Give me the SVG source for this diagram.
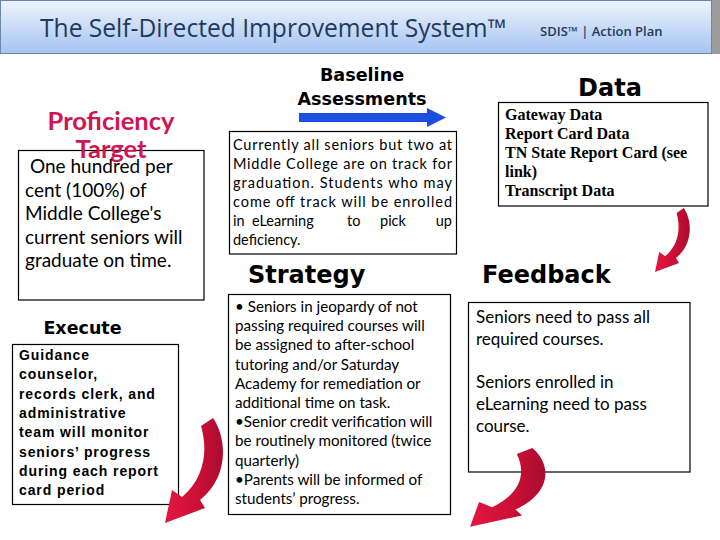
<svg xmlns="http://www.w3.org/2000/svg" width="720" height="540" viewBox="0 0 720 540">
<defs>
  <linearGradient id="hdr" x1="0" y1="0" x2="0" y2="1">
    <stop offset="0" stop-color="#eef4fd"/>
    <stop offset="1" stop-color="#a5c3f1"/>
  </linearGradient>
  <linearGradient id="red" x1="0" y1="0" x2="1" y2="0">
    <stop offset="0" stop-color="#e3173f"/>
    <stop offset="0.6" stop-color="#c90f36"/>
    <stop offset="1" stop-color="#a90c2f"/>
  </linearGradient>
  <path id="curl" d="M 36,8 L 48,0 C 63,22 63,60 35,82 L 40,90 L 0,105 L 7,72 L 17,79 C 40,60 43,32 36,8 Z"/>
</defs>
<style>
  .box{fill:#fff;stroke:#000;stroke-width:1.2}
  .cal{font-family:Lato,"Liberation Sans",sans-serif;fill:#000}
  .ttl{font-family:"DejaVu Sans",sans-serif;font-weight:bold;fill:#000}
  .prof{font-family:Lato,"Liberation Sans",sans-serif;font-weight:bold;font-size:25.5px;fill:#cf1552}
  .exe{font-family:"Liberation Sans",Arial,sans-serif;font-weight:bold;font-size:14px;letter-spacing:0.9px;fill:#000}
  .dat{font-family:"Liberation Serif","Times New Roman",serif;font-weight:bold;font-size:16px;fill:#000}
  .curl{fill:url(#red)}
</style>
<rect width="720" height="540" fill="#fff"/>

<g id="header">
  <rect x="0.5" y="0.5" width="711" height="53" fill="url(#hdr)" stroke="#6b86a8"/>
  <rect x="712" y="0" width="8" height="54" fill="#9b9b9b"/>
  <text x="40" y="37" font-family="'Open Sans',sans-serif" font-size="24.6" fill="#1f3a60">The Self-Directed Improvement System™</text>
  <text x="540" y="36" font-family="'Open Sans',sans-serif" font-size="13" font-weight="600" fill="#1f3a60">SDIS™  |  Action Plan</text>
</g>

<g id="proficiency">
  <text x="111" y="130" text-anchor="middle" class="prof">Proficiency</text>
  <rect class="box" x="18.5" y="150.5" width="185.5" height="149.5"/>
  <text x="111" y="158" text-anchor="middle" class="prof">Target</text>
  <g class="cal" font-size="19">
    <text x="30" y="173">One hundred per</text>
    <text x="25" y="196.5">cent  (100%) of</text>
    <text x="25" y="220">Middle College's</text>
    <text x="25" y="243.5">current seniors will</text>
    <text x="25" y="267">graduate on time.</text>
  </g>
</g>

<g id="execute">
  <text x="82.5" y="334" text-anchor="middle" class="ttl" font-size="17.5">Execute</text>
  <rect class="box" x="12.5" y="344.5" width="166" height="160"/>
  <g class="exe">
    <text x="19" y="360">Guidance</text>
    <text x="19" y="379.3">counselor,</text>
    <text x="19" y="398.6">records clerk, and</text>
    <text x="19" y="417.9">administrative</text>
    <text x="19" y="437.2">team will monitor</text>
    <text x="19" y="456.5">seniors’ progress</text>
    <text x="19" y="475.8">during each report</text>
    <text x="19" y="495.1">card period</text>
  </g>
</g>

<g id="baseline">
  <text x="362" y="81" text-anchor="middle" class="ttl" font-size="17.6">Baseline</text>
  <text x="362" y="105" text-anchor="middle" class="ttl" font-size="17.6">Assessments</text>
  <rect class="box" x="229.5" y="131.5" width="227" height="122.5"/>
  <g class="cal" font-size="14.5">
    <text x="233" y="150" textLength="219" lengthAdjust="spacing">Currently all seniors but two at</text>
    <text x="233" y="169" textLength="219" lengthAdjust="spacing">Middle College are on track for</text>
    <text x="233" y="188" textLength="219" lengthAdjust="spacing">graduation.  Students who may</text>
    <text x="233" y="207" textLength="219" lengthAdjust="spacing">come off track will be  enrolled</text>
    <text x="233" y="226">in</text>
    <text x="252" y="226">eLearning</text>
    <text x="347" y="226">to</text>
    <text x="380" y="226">pick</text>
    <text x="452" y="226" text-anchor="end">up</text>
    <text x="233" y="245">deficiency.</text>
  </g>
</g>

<g id="strategy">
  <text x="248" y="283" class="ttl" font-size="24">Strategy</text>
  <rect class="box" x="228.5" y="294.5" width="222" height="220"/>
  <g class="cal" font-size="15.2">
    <text x="235" y="312">• Seniors in jeopardy of not</text>
    <text x="235" y="331.2">passing required courses will</text>
    <text x="235" y="350.4">be assigned to after-school</text>
    <text x="235" y="369.6">tutoring and/or Saturday</text>
    <text x="235" y="388.8">Academy for remediation or</text>
    <text x="235" y="408">additional time on task.</text>
    <text x="235" y="427.2">•Senior credit verification will</text>
    <text x="235" y="446.4">be routinely monitored (twice</text>
    <text x="235" y="465.6">quarterly)</text>
    <text x="235" y="484.8">•Parents will be informed of</text>
    <text x="235" y="504">students’ progress.</text>
  </g>
</g>

<g id="data">
  <text x="610" y="96" text-anchor="middle" class="ttl" font-size="24">Data</text>
  <rect class="box" x="498.5" y="102.5" width="209.5" height="103.5"/>
  <g class="dat">
    <text x="505" y="120">Gateway Data</text>
    <text x="505" y="139">Report Card Data</text>
    <text x="505" y="158">TN State Report Card (see</text>
    <text x="505" y="177">link)</text>
    <text x="505" y="196">Transcript Data</text>
  </g>
</g>

<g id="feedback">
  <text x="482" y="283" class="ttl" font-size="24">Feedback</text>
  <rect class="box" x="468.5" y="302.5" width="221.5" height="169.5"/>
  <g class="cal" font-size="17">
    <text x="476" y="323">Seniors need to pass all</text>
    <text x="476" y="345">required courses.</text>
    <text x="476" y="388">Seniors enrolled in</text>
    <text x="476" y="410">eLearning need to pass</text>
    <text x="476" y="432">course.</text>
  </g>
</g>

<g id="connectors">
  <g id="blue-arrow" fill="#1c4fe0">
    <rect x="299" y="113" width="129" height="9"/>
    <polygon points="427,108 446,117.5 427,127"/>
  </g>
  <use href="#curl" class="curl" transform="translate(165,418)"/>
  <use href="#curl" class="curl" transform="translate(655,208) scale(0.6,0.61)"/>
  <use href="#curl" class="curl" transform="translate(470,448) scale(1.3,0.75)"/>
</g>
</svg>
